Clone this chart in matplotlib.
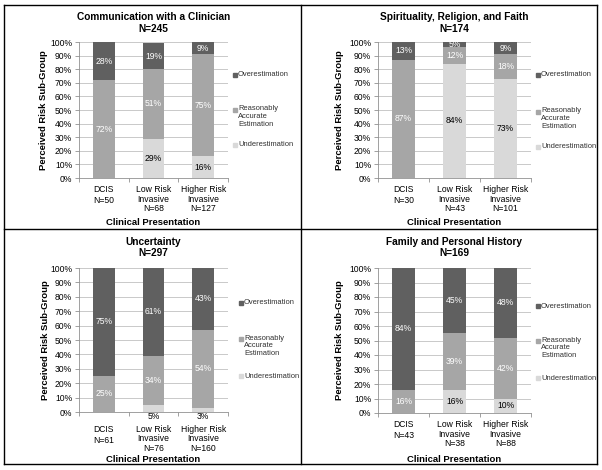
import numpy as np
import matplotlib
matplotlib.use("Agg")
import matplotlib.pyplot as plt
from matplotlib.lines import Line2D

plt.rcParams['font.family'] = ['Liberation Sans', 'DejaVu Sans']

# panel data (percent of each clinical group)
titles = ["Communication with a Clinician\nN=245",
          "Spirituality, Religion, and Faith\nN=174",
          "Uncertainty\nN=297",
          "Family and Personal History\nN=169"]
group_n = [[50, 68, 127], [30, 43, 101], [61, 76, 160], [43, 38, 88]]
under = [[0, 29, 16], [0, 84, 73], [0, 5, 3], [0, 16, 10]]
accurate = [[72, 51, 75], [87, 12, 18], [25, 34, 54], [16, 39, 42]]
over = [[28, 19, 9], [13, 5, 9], [75, 61, 43], [84, 45, 48]]
groups = ["DCIS", "Low Risk\nInvasive", "Higher Risk\nInvasive"]
series_names = ["Underestimation", "Reasonably\nAccurate\nEstimation", "Overestimation"]
colors = ["#d9d9d9", "#a6a6a6", "#606060"]
text_colors = ["black", "white", "white"]

W, H = 602, 470
fig = plt.figure(figsize=(W / 100, H / 100), dpi=100)

# axes boxes in pixels: left, top, right, bottom
boxes = [(79, 42, 228, 178), (378, 42, 531, 178),
         (79, 268, 228, 412), (378, 268, 531, 413)]
legend_dx = [7, 7, 13, 7]
legend_dy = [[33, 68, 103], [33, 70, 105], [35, 71, 108], [38, 73, 110]]
ylabel_dx = [30.5, 33.5, 29.5, 33.5]
xlabel_dy = [40, 40, 43, 42]
tick_pad = [5, 5, 9, 5]


def px_to_fig(l, t, r, b):
    return [l / W, 1 - b / H, (r - l) / W, (b - t) / H]


for i in range(4):
    l, t, r, b = boxes[i]
    pw, ph = r - l, b - t
    ax = fig.add_axes(px_to_fig(l, t, r, b))
    x = np.arange(3)
    bottom = np.zeros(3)
    for s, vals in enumerate([under[i], accurate[i], over[i]]):
        vals = np.array(vals, dtype=float)
        ax.bar(x, vals, 0.44, bottom=bottom, color=colors[s], zorder=2)
        for k in range(3):
            if vals[k] <= 0:
                continue
            yc = bottom[k] + vals[k] / 2
            if s == 0 and vals[k] < 6:
                yc = -2.8
            ax.text(x[k], yc, "%d%%" % vals[k], ha="center", va="center",
                    fontsize=6.2, color=text_colors[s], zorder=3, clip_on=False)
        bottom = bottom + vals

    ax.set_xlim(-0.5, 2.5)
    ax.set_ylim(0, 100)
    ax.set_yticks(np.arange(0, 101, 10))
    ax.set_yticklabels(["%d%%" % v for v in range(0, 101, 10)], fontsize=6.2)
    ax.yaxis.grid(True, color="#c0c0c0", linewidth=0.6, zorder=0)
    ax.set_axisbelow(True)
    ax.set_xticks(x)
    ax.set_xticklabels(["%s\nN=%d" % (g, n) for g, n in zip(groups, group_n[i])],
                       fontsize=6.2, va="top")
    for k, lab in enumerate(ax.get_xticklabels()):
        lab.set_linespacing(1.35 if k == 0 else 1.1)
    ax.set_xticks([-0.5, 0.5, 1.5, 2.5], minor=True)
    ax.tick_params(axis="x", which="major", length=0, pad=tick_pad[i])
    ax.tick_params(axis="x", which="minor", length=3, color="#909090", width=0.6)
    ax.tick_params(axis="y", length=3, color="#909090", width=0.6, pad=2)
    for side in ["top", "right"]:
        ax.spines[side].set_visible(False)
    for side in ["left", "bottom"]:
        ax.spines[side].set_color("#909090")
        ax.spines[side].set_linewidth(0.6)

    ax.text(0.5, 1 + (19 if i < 2 else 20.5) / ph, titles[i], transform=ax.transAxes,
            ha="center", va="center", fontsize=7.3, fontweight="bold", linespacing=1.15)
    ax.set_ylabel("Perceived Risk Sub-Group", fontsize=6.8, fontweight="bold")
    ax.yaxis.set_label_coords(-ylabel_dx[i] / pw, 0.5)
    ax.set_xlabel("Clinical Presentation", fontsize=6.8, fontweight="bold")
    ax.xaxis.set_label_coords(0.5, -xlabel_dy[i] / ph)

    # legend, drawn entry by entry (overestimation on top)
    for j, s in enumerate([2, 1, 0]):
        yy = 1 - legend_dy[i][j] / ph
        xx = 1 + legend_dx[i] / pw
        ax.plot([xx], [yy], marker="s", markersize=2.6, color=colors[s],
                transform=ax.transAxes, clip_on=False, linestyle="none")
        if s == 1:
            ax.text(xx + 3 / pw, yy + 4.5 / ph, series_names[s], transform=ax.transAxes,
                    fontsize=5.4, va="top", ha="left", linespacing=1.15, color="#303030")
        else:
            ax.text(xx + 3 / pw, yy, series_names[s], transform=ax.transAxes,
                    fontsize=5.4, va="center", ha="left", color="#303030")

# panel frame
frame = [((4, 597), (5, 5)), ((4, 597), (464, 464)), ((4, 4), (5, 464)),
         ((597, 597), (5, 464)), ((301, 301), (5, 464)), ((4, 597), (229, 229))]
for xs, ys in frame:
    fig.add_artist(Line2D([v / W for v in xs], [1 - v / H for v in ys],
                          color="black", linewidth=1.0))

fig.savefig("out.png", dpi=100)
